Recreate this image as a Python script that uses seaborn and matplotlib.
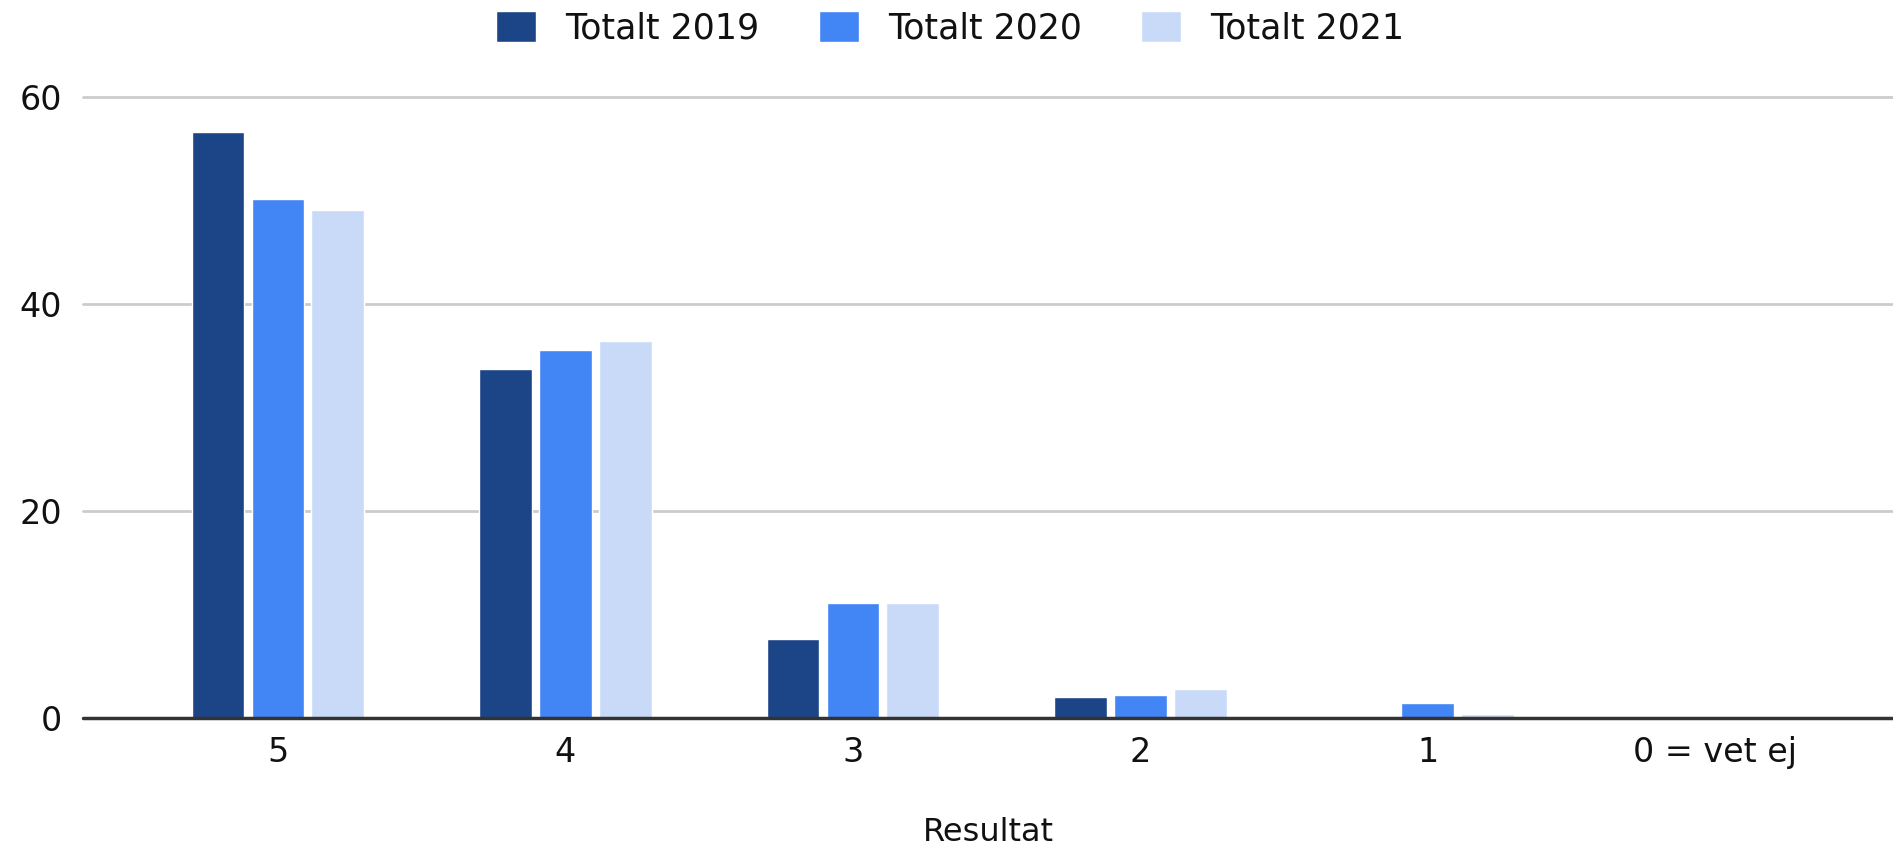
import matplotlib
matplotlib.use("Agg")
import matplotlib.pyplot as plt
import seaborn as sns
import pandas as pd

categories = ["5", "4", "3", "2", "1", "0 = vet ej"]
series_names = ["Totalt 2019", "Totalt 2020", "Totalt 2021"]
totalt_2019 = [56.6, 33.7, 7.6, 2.0, 0.0, 0.0]
totalt_2020 = [50.1, 35.6, 11.1, 2.25, 1.42, 0.0]
totalt_2021 = [49.1, 36.4, 11.1, 2.8, 0.39, 0.0]
y_ticks = [0, 20, 40, 60]
colors = ["#1c4587", "#4285f4", "#c9daf8"]

rows = []
for name, vals in zip(series_names, [totalt_2019, totalt_2020, totalt_2021]):
    for c, v in zip(categories, vals):
        rows.append({"Resultat": c, "Serie": name, "Värde": v})
df = pd.DataFrame(rows)

sns.set_theme(style="white")
plt.rcParams["font.family"] = ["DejaVu Sans"]

fig = plt.figure(figsize=(18.93, 8.48), dpi=100)
ax = fig.add_axes([83 / 1893, 130 / 848, (1893 - 83) / 1893, 621 / 848])

sns.barplot(data=df, x="Resultat", y="Värde", hue="Serie", order=categories,
            hue_order=series_names, palette=colors, width=0.625, gap=0.12,
            saturation=1, ax=ax, legend=True, zorder=3)

ax.set_xlim(-0.678, 5.618)
ax.set_ylim(0, 60)
ax.set_yticks(y_ticks)
ax.set_yticklabels([str(t) for t in y_ticks])
for s in ax.spines.values():
    s.set_visible(False)
ax.grid(axis="y", color="#cccccc", linewidth=2, zorder=0)
ax.grid(axis="x", visible=False)
for gl in ax.get_ygridlines():
    gl.set_clip_on(False)
ax.axhline(0, color="#333333", linewidth=2.5, zorder=4, clip_on=False)

ax.tick_params(axis="y", length=0, pad=15, labelsize=24, labelcolor="#111111")
ax.tick_params(axis="x", length=0, pad=13, labelsize=24, labelcolor="#111111")
ax.set_ylabel("")
ax.set_xlabel("Resultat", fontsize=23, color="#111111")
ax.xaxis.set_label_coords(0.5, -0.185)
ax.xaxis.label.set_va("center")

handles, labels = ax.get_legend_handles_labels()
ax.get_legend().remove()
fig.legend(handles, labels, loc="center", bbox_to_anchor=(0.502, 1 - 28 / 848),
           ncol=3, frameon=False, fontsize=25, handlelength=1.15, handleheight=1.0,
           columnspacing=1.7, handletextpad=0.85, labelcolor="#111111")

fig.savefig("out.png", dpi=100)
